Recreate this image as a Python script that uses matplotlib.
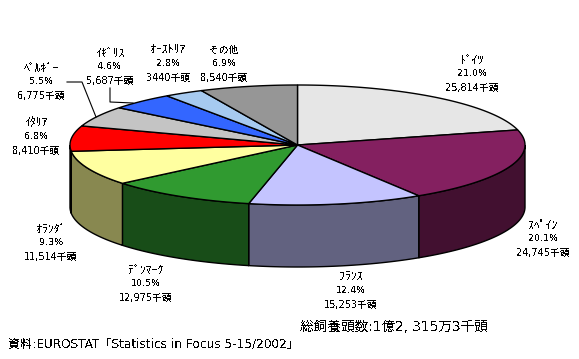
import numpy as np
import matplotlib
matplotlib.use('Agg')
import matplotlib.pyplot as plt

plt.rcParams['font.family'] = ['DejaVu Sans', 'Noto Sans CJK JP']
plt.rcParams['text.antialiased'] = False

# donnees (milliers de tetes), dans le sens horaire depuis le haut
pays = ['ﾄﾞｲﾂ', 'ｽﾍﾟｲﾝ', 'ﾌﾗﾝｽ', 'ﾃﾞﾝﾏｰｸ', 'ｵﾗﾝﾀﾞ', 'ｲﾀﾘｱ', 'ﾍﾞﾙｷﾞｰ', 'ｲｷﾞﾘｽ', 'ｵｰｽﾄﾘｱ', 'その他']
valeurs = [25814, 24745, 15253, 12975, 11514, 8410, 6775, 5687, 3440, 8540]
pourcents = ['21.0%', '20.1%', '12.4%', '10.5%', '9.3%', '6.8%', '5.5%', '4.6%', '2.8%', '6.9%']
tetes = ['25,814千頭', '24,745千頭', '15,253千頭', '12,975千頭', '11,514千頭',
         '8,410千頭', '6,775千頭', '5,687千頭', '3440千頭', '8,540千頭']
couleurs = ['#E6E6E6', '#842060', '#C4C4FF', '#309A30', '#FFFFA0',
            '#FF0000', '#C4C4C4', '#3366FF', '#A6CAF0', '#969696']
cotes = ['#737373', '#421030', '#626280', '#184D18', '#888850',
         '#800000', '#626262', '#1A3380', '#536578', '#4B4B4B']

# position des etiquettes (pixels)
pos_x = [472, 543, 351, 146, 51, 36, 41, 110, 168, 224]
pos_y = [60, 225, 277, 270, 229, 123, 68, 53, 50, 50]
# taille du nom : katakana demi-chasse sauf "その他"
taille_nom = [8.5, 8.5, 8.5, 8.5, 8.5, 8.5, 8.5, 8.5, 8.5, 7]

cx, cy, rx, ry, prof = 297.5, 145, 227.5, 60, 62


def point(angle):
    return cx + rx * np.sin(angle), cy - ry * np.cos(angle)


fig = plt.figure(figsize=(5.79, 3.59), dpi=100)
ax = fig.add_axes([0, 0, 1, 1])
ax.set_xlim(0, 579)
ax.set_ylim(359, 0)
ax.axis('off')

bornes = np.concatenate([[0], np.cumsum(valeurs)]) / sum(valeurs) * 2 * np.pi

# parois (seulement la moitie avant)
for i in range(len(valeurs)):
    a0 = max(bornes[i], np.pi / 2)
    a1 = min(bornes[i + 1], 3 * np.pi / 2)
    if a1 <= a0:
        continue
    t = np.linspace(a0, a1, 80)
    x, y = point(t)
    ax.fill(np.r_[x, x[::-1]], np.r_[y, y[::-1] + prof], facecolor=cotes[i],
            edgecolor='black', linewidth=1, zorder=2)

# dessus
for i in range(len(valeurs)):
    t = np.linspace(bornes[i], bornes[i + 1], 80)
    x, y = point(t)
    ax.fill(np.r_[cx, x], np.r_[cy, y], facecolor=couleurs[i],
            edgecolor='black', linewidth=1, zorder=3)

# etiquettes
for i in range(len(pays)):
    ax.text(pos_x[i], pos_y[i], pays[i], ha='center', va='center', fontsize=taille_nom[i], color='black')
    ax.text(pos_x[i], pos_y[i] + 13.5, pourcents[i], ha='center', va='center', fontsize=6.8, color='black')
    ax.text(pos_x[i], pos_y[i] + 28, tetes[i], ha='center', va='center', fontsize=7, color='black')

# traits de rappel
ax.plot([67, 82, 96], [82, 82, 117], color='black', linewidth=0.8, zorder=4)
ax.plot([110, 110, 133], [88, 102, 103], color='black', linewidth=0.8, zorder=4)

ax.text(300, 327, '総飼養頭数:1億2, 315万3千頭', ha='left', va='center', fontsize=9.8, color='black')
ax.text(8, 344, '資料:EUROSTAT「Statistics in Focus 5-15/2002」', ha='left', va='center', fontsize=8.7, color='black')

fig.savefig('out.png', dpi=100)
